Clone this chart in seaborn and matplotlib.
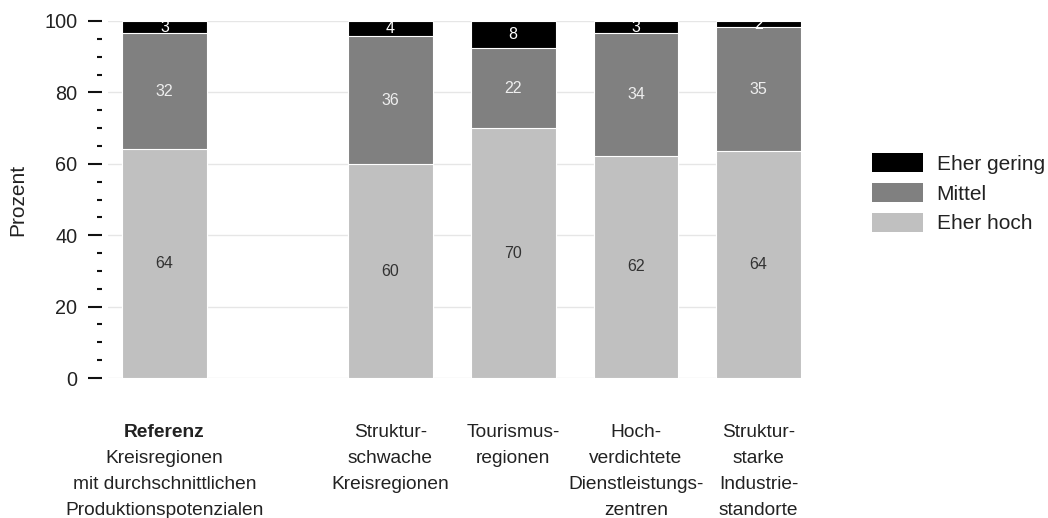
import matplotlib
matplotlib.use("Agg")
import matplotlib.pyplot as plt
import seaborn as sns
import numpy as np
import pandas as pd
from matplotlib.ticker import MultipleLocator
from matplotlib.patches import Patch

# ---- data ----
categories = ["Referenz", "Strukturschwache", "Tourismusregionen", "Hochverdichtete", "Strukturstarke"]
positions = [0.0, 1.84, 2.84, 3.84, 4.84]
eher_hoch = [64.1, 59.9, 70.0, 62.2, 63.6]
mittel = [32.5, 35.9, 22.4, 34.4, 34.6]
eher_gering = [3.4, 4.2, 7.6, 3.4, 1.8]
hoch_labels = ["64", "60", "70", "62", "64"]
mittel_labels = ["32", "36", "22", "34", "35"]
gering_labels = ["3", "4", "8", "3", "2"]
series_names = ["Eher gering", "Mittel", "Eher hoch"]
tick_lines = [
    ["Referenz", "Kreisregionen", "mit durchschnittlichen", "Produktionspotenzialen"],
    ["Struktur-", "schwache", "Kreisregionen"],
    ["Tourismus-", "regionen"],
    ["Hoch-", "verdichtete", "Dienstleistungs-", "zentren"],
    ["Struktur-", "starke", "Industrie-", "standorte"],
]
y_ticks = [0, 20, 40, 60, 80, 100]

col_gering = "#000000"
col_mittel = "#808080"
col_hoch = "#c0c0c0"
txt = "#222222"

sns.set_style("white")
plt.rcParams["font.family"] = ["Liberation Sans", "DejaVu Sans"]

fig = plt.figure(figsize=(10.48, 5.18), dpi=100)
ax = fig.add_axes([108 / 1048, 1 - 378 / 518, (801 - 108) / 1048, (378 - 21) / 518])

df = pd.DataFrame({
    "pos": positions,
    "hoch": eher_hoch,
    "mittel": mittel,
    "gering": eher_gering,
})
df["c2"] = df["hoch"] + df["mittel"]
df["c3"] = df["c2"] + df["gering"]

common = dict(native_scale=True, width=0.69, errorbar=None, edgecolor="white",
              linewidth=0.8, ax=ax, zorder=3)
sns.barplot(data=df, x="pos", y="c3", color=col_gering, saturation=1, **common)
sns.barplot(data=df, x="pos", y="c2", color=col_mittel, saturation=1, **common)
sns.barplot(data=df, x="pos", y="hoch", color=col_hoch, saturation=1, **common)

# value labels
for i, p in enumerate(positions):
    h, m, g = eher_hoch[i], mittel[i], eher_gering[i]
    ax.text(p, h / 2, hoch_labels[i], ha="center", va="center", fontsize=11.5, color="#333333", zorder=5)
    ax.text(p, h + m / 2, mittel_labels[i], ha="center", va="center", fontsize=11.5, color="#eeeeee", zorder=5)
    ax.text(p, h + m + g / 2, gering_labels[i], ha="center", va="center", fontsize=11.5, color="#ffffff", zorder=5)

ax.set_xlim(-0.461, 5.185)
ax.set_ylim(0, 100)
for s in ax.spines.values():
    s.set_visible(False)
ax.spines["left"].set_position(("outward", 4))

ax.set_yticks(y_ticks)
ax.yaxis.set_minor_locator(MultipleLocator(5))
ax.tick_params(axis="y", which="major", left=True, length=10, width=1.5, color="#111111",
               labelsize=14.3, labelcolor=txt, pad=8)
ax.tick_params(axis="y", which="minor", left=True, length=3.5, width=1.5, color="#111111")
ax.grid(axis="y", which="major", color="#e6e6e6", linewidth=1, zorder=0)
ax.grid(axis="x", visible=False)
ax.set_axisbelow(True)
ax.set_xticks([])
ax.set_xlabel("")
ax.set_ylabel("Prozent", fontsize=15, color=txt, labelpad=12)

# category labels
for i, p in enumerate(positions):
    for j, line in enumerate(tick_lines[i]):
        bold = (i == 0 and j == 0)
        ax.annotate(line, xy=(p, 0), xycoords=("data", "axes fraction"),
                    xytext=(0, -42.5 - j * 18.7), textcoords="offset points",
                    ha="center", va="baseline", fontsize=13.8, color=txt,
                    fontweight="bold" if bold else "normal", annotation_clip=False)

handles = [Patch(facecolor=col_gering, edgecolor="none"),
           Patch(facecolor=col_mittel, edgecolor="none"),
           Patch(facecolor=col_hoch, edgecolor="none")]
fig.legend(handles, series_names, loc="upper left", bbox_to_anchor=(872 / 1048, 1 - 153 / 518),
           frameon=False, fontsize=15, handlelength=2.45, handleheight=1.06,
           handletextpad=0.65, labelspacing=0.43, borderpad=0, borderaxespad=0,
           labelcolor=txt)

fig.savefig("out.png", dpi=100)
